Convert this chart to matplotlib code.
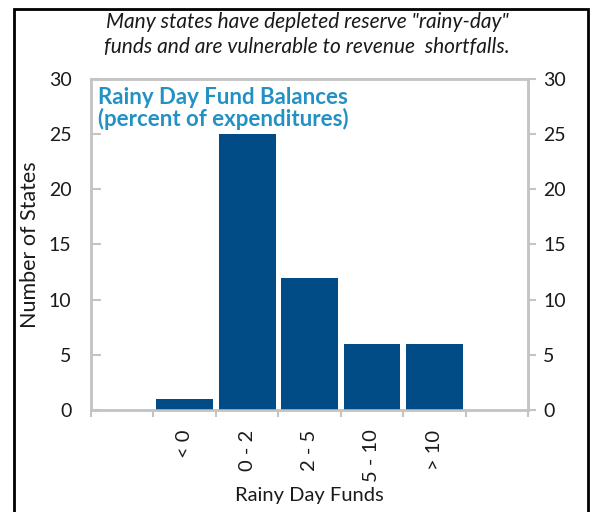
import matplotlib
matplotlib.use('Agg')
import matplotlib.pyplot as plt
from matplotlib.patches import Rectangle
import numpy as np

plt.rcParams['font.family'] = ['Lato', 'DejaVu Sans']

# data
categories = ['< 0', '0 - 2', '2 - 5', '5 - 10', '> 10']
num_states = [1, 25, 12, 6, 6]
y_ticks = [0, 5, 10, 15, 20, 25, 30]

bar_color = '#014c87'
spine_color = '#c4c4c4'
text_color = '#1a1a1a'

fig = plt.figure(figsize=(5.93, 5.12), dpi=100)
ax = fig.add_axes([0.1535, 0.199, 0.737, 0.647])

# an empty slot at each end, bars in the middle
pos = np.arange(1, len(categories) + 1)
ax.bar(pos, num_states, width=0.91, color=bar_color, zorder=3)
ax.set_xlim(-0.5, len(categories) + 1.5)
ax.set_ylim(0, 30)

# major ticks on the slot edges, labels on the centres
ax.set_xticks(np.arange(-0.5, len(categories) + 2, 1))
ax.set_xticklabels([])
ax.set_xticks(pos, minor=True)
ax.set_xticklabels(categories, minor=True, rotation=90, va='top',
                   fontsize=14.5, color=text_color)
ax.tick_params(axis='x', which='major', direction='out', length=5,
               width=1.5, color=spine_color)
ax.tick_params(axis='x', which='minor', length=0, pad=14)

ax.set_yticks(y_ticks)
ax.tick_params(axis='y', direction='in', length=7, width=1.5,
               color=spine_color, labelsize=14, labelcolor=text_color, pad=14)

ax2 = ax.twinx()
ax2.set_ylim(0, 30)
ax2.set_yticks(y_ticks)
ax2.tick_params(axis='y', direction='out', length=6, width=1.5,
                color=spine_color, labelsize=14, labelcolor=text_color, pad=5)

for a in (ax, ax2):
    for s in a.spines.values():
        s.set_color(spine_color)
        s.set_linewidth(1.8)

ax.set_ylabel('Number of States', fontsize=15.5, color=text_color, labelpad=6)
ax.set_xlabel('Rainy Day Funds', fontsize=14.5, color=text_color)
ax.xaxis.set_label_coords(0.5, -0.232)
ax.xaxis.label.set_va('top')

ax.text(0.015, 0.975, 'Rainy Day Fund Balances\n(percent of expenditures)',
        transform=ax.transAxes, ha='left', va='top', fontsize=16,
        fontweight='bold', color='#2391c4', linespacing=1.0)

fig.text(0.518, 0.977, 'Many states have depleted reserve "rainy-day"\n'
         'funds and are vulnerable to revenue  shortfalls.',
         ha='center', va='top', fontsize=15, style='italic',
         color=text_color, linespacing=1.35)

# outer frame, running off the bottom
fig.patches.append(Rectangle((0.024, -0.05), 0.968, 1.032,
                             transform=fig.transFigure, fill=False,
                             edgecolor='black', linewidth=2))

plt.savefig('out.png', dpi=100)
